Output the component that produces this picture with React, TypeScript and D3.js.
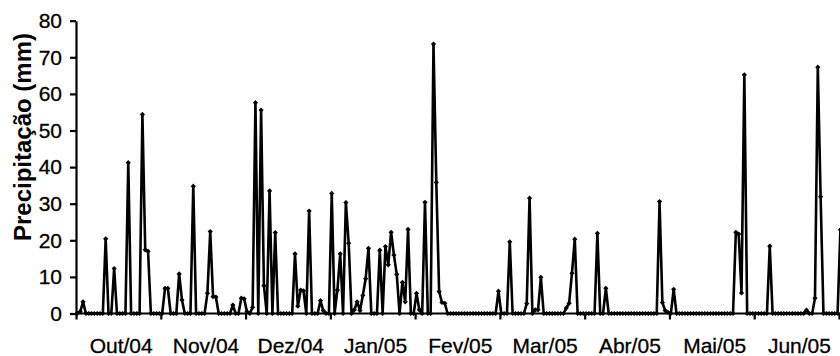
import React, { useEffect, useRef } from 'react';
import * as d3 from 'd3';

// daily precipitation (mm), one value per day starting 1 Oct 2004
const outubro = [0, 0.5, 3.2, 0, 0, 0, 0, 0, 0, 0, 20.4, 0, 0, 12.3, 0, 0, 0, 0, 41.2, 0, 0, 0, 0, 54.4, 17.4, 17, 0, 0, 0, 0, 0];
const novembro = [6.9, 6.9, 0, 0, 0, 10.8, 3.7, 0, 0, 0, 34.8, 0, 0, 0, 0, 5.5, 22.4, 4.6, 4.5, 0, 0, 0, 0, 0, 2.3, 0, 0, 4.2, 4.0, 0.5];
const dezembro = [0, 1.7, 57.6, 0, 55.6, 7.6, 0, 33.5, 0, 22.1, 0, 0, 0, 0, 0, 0, 16.3, 2, 6.4, 6.2, 0, 28, 0, 0, 0, 3.5, 0.8, 0, 0, 32.8, 0];
const janeiro = [6.4, 16.3, 0, 30.3, 19.2, 0, 1, 3.2, 0.8, 4.9, 9.5, 17.8, 0, 0, 0, 17.3, 0, 18.3, 13.3, 22.2, 16, 10.7, 0, 8.5, 3.2, 23, 0, 0, 5.5, 1, 0];
const fevereiro = [30.4, 0, 0, 73.6, 35.8, 6, 3, 2.8, 0, 0, 0, 0, 0, 0, 0, 0, 0, 0, 0, 0, 0, 0, 0, 0, 0, 0, 6.1, 0];
const marco = [0, 0, 19.6, 0, 0, 0, 0, 0, 2.7, 31.5, 0, 1, 1, 9.9, 0, 0, 0, 0, 0, 0, 0, 0, 1.5, 2.8, 11, 20.3, 0, 0, 0, 0, 0];
const abril = [0, 0, 21.9, 0, 0, 6.9, 0, 0, 0, 0, 0, 0, 0, 0, 0, 0, 0, 0, 0, 0, 0, 0, 0, 0, 30.6, 3, 0.8, 0.3, 0, 6.6];
const maio = [0, 0, 0, 0, 0, 0, 0, 0, 0, 0, 0, 0, 0, 0, 0, 0, 0, 0, 0, 0, 0, 22.2, 21.7, 5.6, 65.2, 0, 0, 0, 0, 0, 0];
const junho = [0, 0, 18.4, 0, 0, 0, 0, 0, 0, 0, 0, 0, 0, 0, 0, 0.9, 0, 0, 4.2, 67.3, 31.9, 0, 0, 0, 0, 0, 0, 22.9];

const monthLabels = ['Out/04', 'Nov/04', 'Dez/04', 'Jan/05', 'Fev/05', 'Mar/05', 'Abr/05', 'Mai/05', 'Jun/05'];
const yTicks = [0, 10, 20, 30, 40, 50, 60, 70, 80];

const FONT = '"Liberation Sans", Arial, sans-serif';

export default function App() {
  const ref = useRef<SVGSVGElement>(null);

  useEffect(() => {
    const svg = d3.select(ref.current);
    svg.selectAll('*').remove();

    const rain = [...outubro, ...novembro, ...dezembro, ...janeiro, ...fevereiro, ...marco, ...abril, ...maio, ...junho];
    const step = 30; // tick every 30 days

    const x = d3.scaleLinear().domain([0, 270]).range([76, 839]);
    const y = d3.scaleLinear().domain([0, 80]).range([313.5, 20.7]);

    // y axis
    const yAxis = svg.append('g')
      .attr('transform', `translate(${x(0)},0)`)
      .call(d3.axisLeft(y).tickValues(yTicks).tickSize(6).tickSizeOuter(0).tickPadding(8));
    yAxis.select('.domain').attr('stroke', '#000').attr('stroke-width', 2.2);
    yAxis.selectAll('.tick line').attr('stroke', '#000').attr('stroke-width', 2.2);
    yAxis.selectAll('.tick text')
      .attr('font-family', FONT)
      .attr('font-size', 21)
      .attr('fill', '#000')
      .attr('stroke', '#000')
      .attr('stroke-width', 0.3);

    // x axis ticks
    const xTicks = d3.range(0, 271, step);
    const xAxis = svg.append('g')
      .attr('transform', `translate(0,${y(0)})`)
      .call(d3.axisBottom(x).tickValues(xTicks).tickSize(6).tickSizeOuter(0).tickFormat(() => ''));
    xAxis.select('.domain').remove();
    xAxis.selectAll('.tick line').attr('stroke', '#000').attr('stroke-width', 2.2);
    svg.append('line')
      .attr('x1', x(0) - 1).attr('x2', 842)
      .attr('y1', y(0)).attr('y2', y(0))
      .attr('stroke', '#000').attr('stroke-width', 2.2);

    svg.append('g')
      .selectAll('text')
      .data(monthLabels)
      .enter()
      .append('text')
      .attr('x', (d, i) => x(i * step + 16))
      .attr('y', 353)
      .attr('text-anchor', 'middle')
      .attr('font-family', FONT)
      .attr('font-size', 21)
      .attr('fill', '#000')
      .attr('stroke', '#000')
      .attr('stroke-width', 0.3)
      .text(d => d);

    // y axis title
    svg.append('text')
      .attr('transform', 'translate(31,137) rotate(-90)')
      .attr('text-anchor', 'middle')
      .attr('font-family', FONT)
      .attr('font-size', 24)
      .attr('font-weight', 'bold')
      .attr('fill', '#000')
      .text('Precipitação (mm)');

    // series
    const line = d3.line<number>()
      .x((d, i) => x(i + 0.5))
      .y(d => y(d));

    svg.append('path')
      .datum(rain)
      .attr('fill', 'none')
      .attr('stroke', '#000')
      .attr('stroke-width', 2.6)
      .attr('stroke-linejoin', 'round')
      .attr('d', line);

    svg.append('g')
      .selectAll('path')
      .data(rain)
      .enter()
      .append('path')
      .attr('transform', (d, i) => `translate(${x(i + 0.5)},${y(d)})`)
      .attr('d', 'M0,-2.6L2.6,0L0,2.6L-2.6,0Z')
      .attr('fill', '#000');
  }, []);

  return (
    <svg
      ref={ref}
      width={840}
      height={356}
      style={{ position: 'absolute', left: 0, top: 0, background: '#fff' }}
    />
  );
}
